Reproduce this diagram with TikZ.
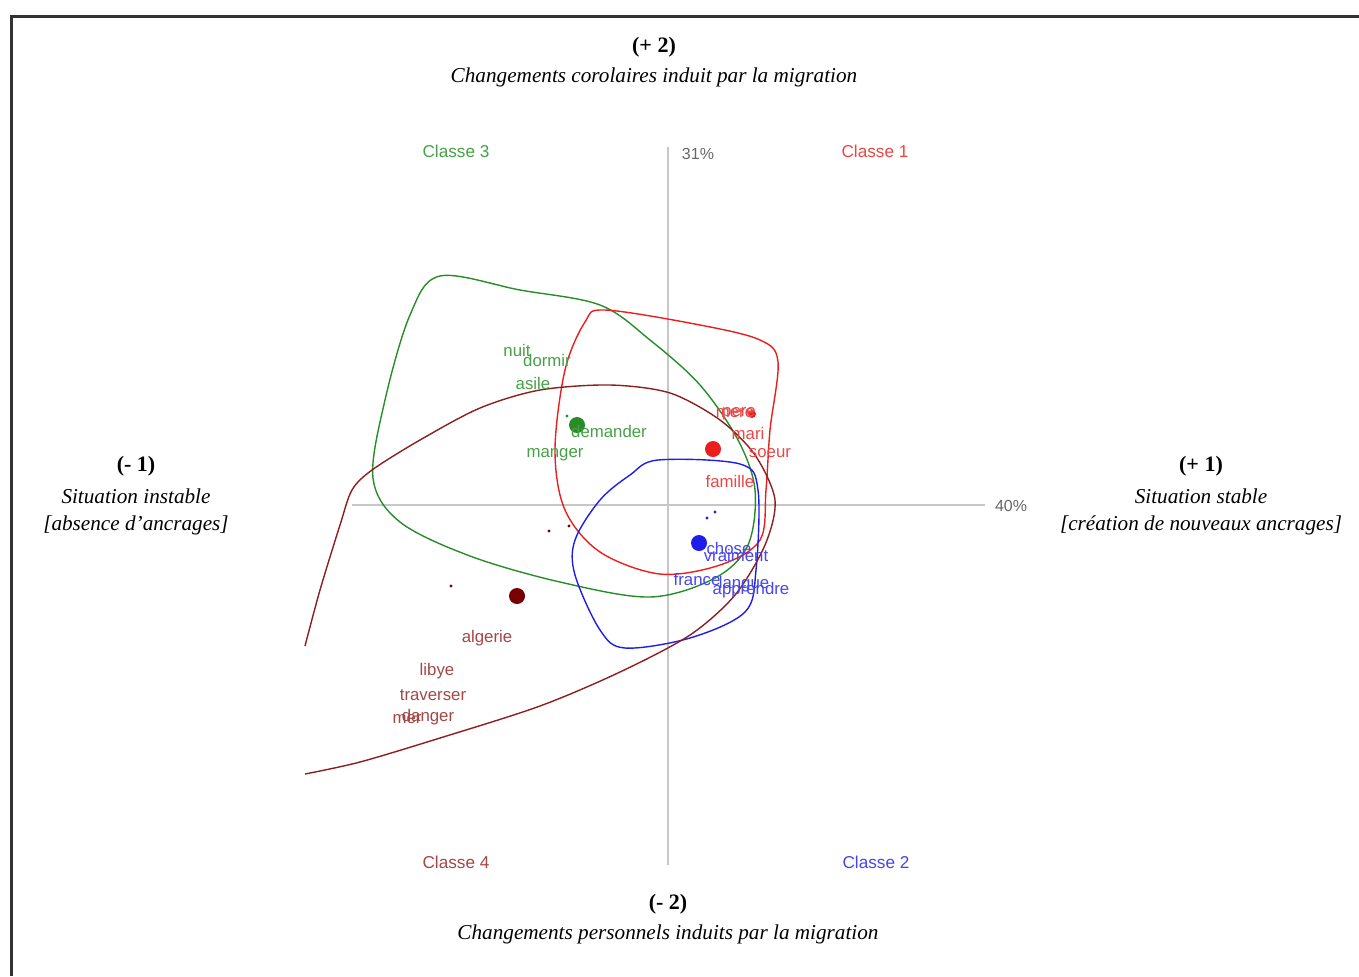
\documentclass[tikz,border=0pt]{standalone}
\usepackage{fontspec}
\setmainfont{Liberation Serif}
\setsansfont{Liberation Sans}
\begin{document}
\begin{tikzpicture}[x=0.5pt,y=-0.5pt,
  axis/.style={draw=black!22,line width=0.9pt},
  frame/.style={draw=black!80,line width=1.5pt},
  pole/.style={font=\fontsize{11}{13}\selectfont\bfseries,text=black,inner sep=0pt},
  poletxt/.style={font=\fontsize{10.6}{13}\selectfont\itshape,text=black,inner sep=0pt},
  cls/.style={font=\sffamily\fontsize{8.6}{10}\selectfont,inner sep=0pt},
  pct/.style={font=\sffamily\fontsize{8}{10}\selectfont,text=black!60,inner sep=0pt},
  word/.style={font=\sffamily\fontsize{8.4}{10}\selectfont,inner sep=0pt},
  hull/.style={line width=0.7pt},
  bigdot/.style={circle,inner sep=0pt,minimum size=8pt},
  smalldot/.style={circle,inner sep=0pt,minimum size=1.6pt}]
\definecolor{cgreen}{RGB}{40,140,40}
\definecolor{cgreenT}{RGB}{70,160,70}
\definecolor{cred}{RGB}{235,30,30}
\definecolor{credT}{RGB}{235,70,70}
\definecolor{cblue}{RGB}{30,30,235}
\definecolor{cblueT}{RGB}{70,70,235}
\definecolor{cdark}{RGB}{120,0,0}
\definecolor{cdarkL}{RGB}{140,30,30}
\definecolor{cdarkT}{RGB}{165,70,70}
\useasboundingbox (0,0) rectangle (1359,976);

% frame
\draw[frame] (10,16) -- (1359,16);
\draw[frame] (11,15) -- (11,976);

% axes
\draw[axis] (668,147) -- (668,865);
\draw[axis] (352,505) -- (985,505);
\node[pct] (p31) at (698,154) {31\%};
\node[pct] (p40) at (1011,506) {40\%};

% poles
\node[pole] (t1) at (654,47) {(+ 2)};
\node[poletxt] (t2) at (654,77) {Changements corolaires induit par la migration};
\node[pole] (b1) at (668,904) {(- 2)};
\node[poletxt] (b2) at (668,934) {Changements personnels induits par la migration};
\node[pole] (l1) at (136,466) {(- 1)};
\node[poletxt] (l2) at (136,496) {Situation instable};
\node[poletxt] (l3) at (136,525) {[absence d’ancrages]};
\node[pole] (r1) at (1201,466) {(+ 1)};
\node[poletxt] (r2) at (1201,496) {Situation stable};
\node[poletxt] (r3) at (1201,525) {[création de nouveaux ancrages]};

% class labels
\node[cls,text=cgreenT] (c3) at (456,151) {Classe 3};
\node[cls,text=credT] (c1) at (875,151) {Classe 1};
\node[cls,text=cdarkT] (c4) at (456,862) {Classe 4};
\node[cls,text=cblueT] (c2) at (876,862) {Classe 2};

% hulls
\draw[hull,cgreen] plot[smooth cycle,tension=0.55] coordinates {
 (440,276) (520,290) (600,305) (650,340) (700,385) (738,440) (755,490)
 (748,545) (715,578) (650,597) (560,582) (470,556) (400,522) (373,478)
 (385,400) (410,315)};
\draw[hull,cred] plot[smooth cycle,tension=0.55] coordinates {
 (605,310) (700,325) (760,340) (778,362) (770,430) (766,490) (760,540)
 (720,565) (660,574) (600,552) (565,510) (555,450) (565,370) (585,322)};
\draw[hull,cblue] plot[smooth cycle,tension=0.55] coordinates {
 (658,460) (740,464) (758,490) (756,570) (745,612) (690,638) (625,648)
 (600,630) (575,575) (575,540) (600,500) (630,475)};
\draw[hull,cdarkL] plot[smooth,tension=0.5] coordinates {
 (305,646) (320,590) (340,525) (352,490) (372,470) (420,440) (480,408)
 (540,390) (610,385) (670,393) (720,420) (755,455) (775,500) (765,545)
 (735,595) (690,635) (620,672) (540,706) (440,738) (360,762) (305,774)};

% class centres
\node[bigdot,fill=cgreen] (g0) at (577,425) {};
\node[bigdot,fill=cred] (r0) at (713,449) {};
\node[bigdot,fill=cblue] (u0) at (699,543) {};
\node[bigdot,fill=cdark] (d0) at (517,596) {};
\node[smalldot,fill=cgreen] (g1) at (567,416) {};
\node[smalldot,fill=cred,minimum size=4pt] (r1d) at (752,414) {};
\node[smalldot,fill=cblue] (u1) at (707,518) {};
\node[smalldot,fill=cblue] (u2) at (715,512) {};
\node[smalldot,fill=cdark] (d1) at (451,586) {};
\node[smalldot,fill=cdark] (d2) at (549,531) {};
\node[smalldot,fill=cdark] (d3) at (569,526) {};

% class 3 words
\node[word,text=cgreenT] (w1) at (517,350) {nuit};
\node[word,text=cgreenT] (w2) at (547,360) {dormir};
\node[word,text=cgreenT] (w3) at (533,383) {asile};
\node[word,text=cgreenT] (w4) at (609,431) {demander};
\node[word,text=cgreenT] (w5) at (555,455) {manger};
% class 1 words
\node[word,text=credT] (w6) at (735,413) {mere};
\node[word,text=credT] (w7) at (739,414) {pere};
\node[word,text=credT] (w8) at (748,433) {mari};
\node[word,text=credT] (w9) at (770,453) {soeur};
\node[word,text=credT] (w10) at (730,481) {famille};
% class 2 words
\node[word,text=cblueT] (w11) at (729,548) {chose};
\node[word,text=cblueT] (w12) at (736,555) {vraiment};
\node[word,text=cblueT] (w13) at (697,579) {france};
\node[word,text=cblueT] (w14) at (744,584) {langue};
\node[word,text=cblueT] (w15) at (751,590) {apprendre};
% class 4 words
\node[word,text=cdarkT] (w16) at (487,638) {algerie};
\node[word,text=cdarkT] (w17) at (437,671) {libye};
\node[word,text=cdarkT] (w18) at (433,695) {traverser};
\node[word,text=cdarkT] (w19) at (428,717) {danger};
\node[word,text=cdarkT] (w20) at (407,719) {mer};
\end{tikzpicture}
\end{document}
